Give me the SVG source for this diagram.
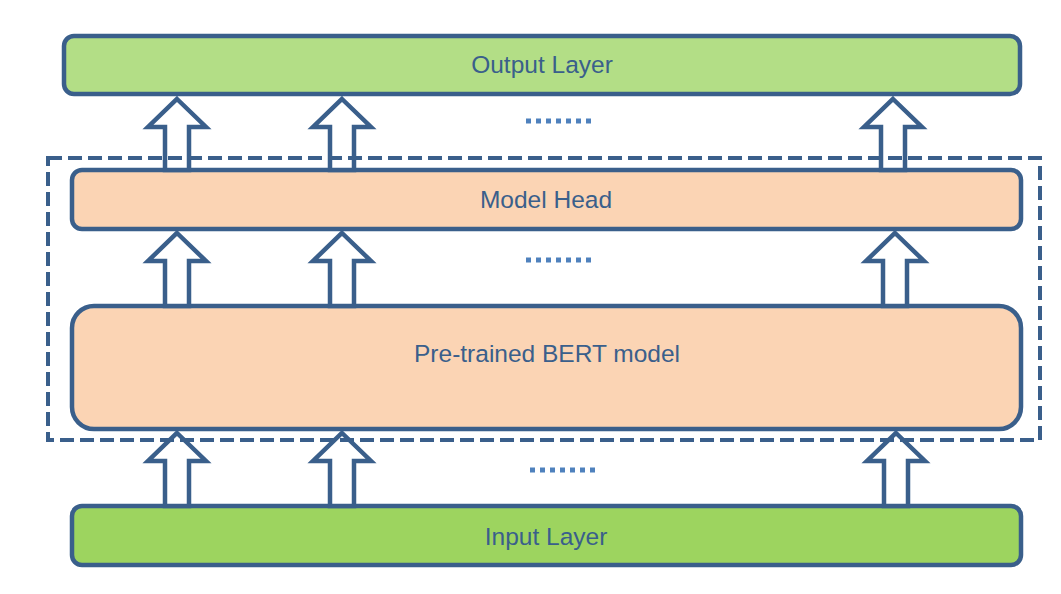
<svg xmlns="http://www.w3.org/2000/svg" width="1061" height="594" viewBox="0 0 1061 594">
<style>
.box{stroke:#3A5F8B;stroke-width:4.5}
.lbl{font-family:"Liberation Sans",Arial,sans-serif;font-size:24.5px;fill:#3A5F8B;text-anchor:middle}
.arr{fill:#FFFFFF;stroke:#3A5F8B;stroke-width:4.5;stroke-linejoin:miter}
.dots{stroke:#4F81BD;stroke-width:5;stroke-dasharray:5 5}
</style>
<defs>
<polygon id="arrowA" points="0,0 29,28 12,28 12,71 -12,71 -12,28 -29,28"/>
<polygon id="arrowB" points="0,0 29,28 12,28 12,73 -12,73 -12,28 -29,28"/>
</defs>
<rect width="1061" height="594" fill="#FFFFFF"/>
<g id="output-layer">
<rect class="box" x="64" y="36" width="956" height="58" rx="10" fill="#B3DE86"/>
<text class="lbl" x="542" y="73">Output Layer</text>
</g>
<g id="model-head">
<rect class="box" x="72" y="170" width="949" height="59" rx="10" fill="#FBD4B4"/>
<text class="lbl" x="546" y="208">Model Head</text>
</g>
<g id="bert-model">
<rect class="box" x="72" y="306" width="949" height="123" rx="22" fill="#FBD4B4"/>
<text class="lbl" x="547" y="362">Pre-trained BERT model</text>
</g>
<g id="input-layer">
<rect class="box" x="72" y="506" width="949" height="59" rx="10" fill="#9DD45F"/>
<text class="lbl" x="546" y="545">Input Layer</text>
</g>
<g id="connectors">
<use href="#arrowA" class="arr" x="177" y="99"/>
<use href="#arrowA" class="arr" x="342" y="99"/>
<use href="#arrowA" class="arr" x="893" y="99"/>
<use href="#arrowB" class="arr" x="177" y="233"/>
<use href="#arrowB" class="arr" x="342" y="233"/>
<use href="#arrowB" class="arr" x="895" y="233"/>
<use href="#arrowB" class="arr" x="177" y="433"/>
<use href="#arrowB" class="arr" x="342" y="433"/>
<use href="#arrowB" class="arr" x="896" y="433"/>
</g>
<g id="fine-tuned-group">
<rect x="48" y="158" width="992" height="282" fill="none" stroke="#3A5F8B" stroke-width="4" stroke-dasharray="14 6"/>
</g>
<g id="ellipses">
<line class="dots" x1="526" y1="121" x2="591" y2="121"/>
<line class="dots" x1="526" y1="260" x2="591" y2="260"/>
<line class="dots" x1="530" y1="470" x2="595" y2="470"/>
</g>
</svg>
